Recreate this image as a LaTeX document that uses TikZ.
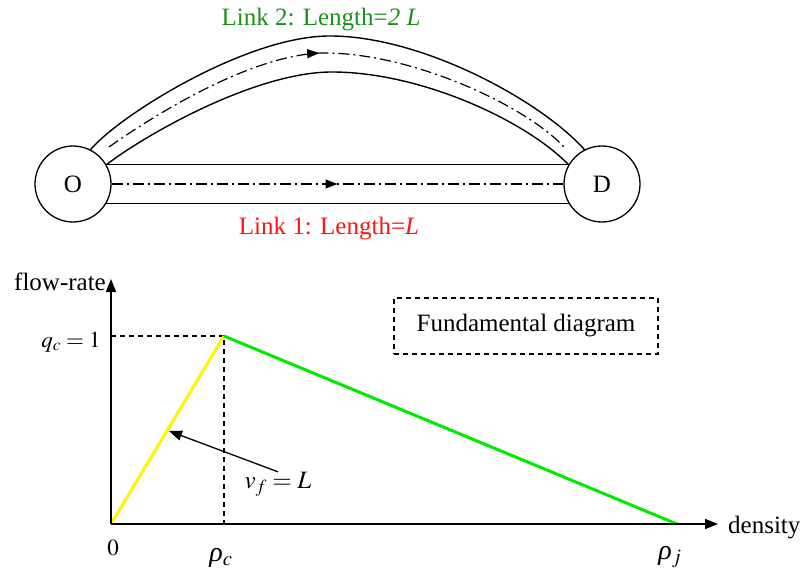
\documentclass[tikz,border=0pt]{standalone}
\usepackage{mathptmx}
\usepackage[no-math]{fontspec}
\setmainfont{Liberation Serif}
\usetikzlibrary{arrows.meta,decorations.markings}
\definecolor{linkgreen}{RGB}{25,145,25}
\definecolor{linkred}{RGB}{255,20,20}
\definecolor{fdgreen}{RGB}{0,235,0}
\definecolor{fdyellow}{RGB}{255,245,0}
\begin{document}
\begin{tikzpicture}[x=1pt,y=-1pt,
  txt/.style={font=\fontsize{25}{30}\selectfont, inner sep=0pt},
  town/.style={circle, draw, line width=1.3pt, minimum size=76pt, inner sep=0pt, font=\fontsize{25}{30}\selectfont},
  road/.style={line width=1.4pt},
  route/.style={line width=1.2pt, dash pattern=on 11pt off 4pt on 2pt off 4pt},
  midarrow/.style={postaction={decorate}, decoration={markings,
      mark=at position #1 with {\arrow{Triangle[length=12pt,width=9pt]}}}},
  axis/.style={line width=1.6pt, -{Triangle[length=13pt,width=10pt]}},
  guide/.style={line width=1.2pt, dash pattern=on 5pt off 4pt},
  mth/.style={inner sep=0pt, font=\fontsize{#1}{#1}\selectfont},
]
\useasboundingbox (0,0) rectangle (806,575);

% ---- network ----
\node[town] (O) at (73,184) {O};
\node[town] (D) at (602,184) {D};

% link 1
\draw[road] (O.30) -- (D.150);
\draw[road] (O.-30) -- (D.-150);
\draw[route, midarrow=0.5] (O.east) -- (D.west);

% link 2
\draw[road] (O.63) .. controls (120,115) and (245,37) .. (328,36)
                   .. controls (420,35) and (540,100) .. (D.117);
\draw[road] (O.30) .. controls (145,135) and (255,72) .. (332,72)
                   .. controls (420,72) and (525,120) .. (D.150);
\coordinate (r2s) at (109,147);
\coordinate (r2e) at (564,147);
\draw[route, midarrow=0.465] (r2s) .. controls (140,125) and (245,55) .. (322,53)
                   .. controls (410,52) and (525,105) .. (r2e);

\node[txt, text=linkgreen, anchor=base] (l2) at (321,26) {Link 2: Length=\textit{2 L}};
\node[txt, text=linkred, anchor=base] (l1) at (329,234) {Link 1: Length=\textit{L}};

% ---- fundamental diagram ----
\coordinate (orig) at (111,524);
\coordinate (ytop) at (111,279);
\coordinate (xend) at (718,524);
\coordinate (crit) at (224,336);
\coordinate (critx) at (224,524);
\coordinate (crity) at (111,336);
\coordinate (jam) at (677,524);

\draw[guide] (crity) -- (crit) -- (critx);
\draw[fdyellow, line width=3pt] (orig) -- (crit);
\draw[fdgreen, line width=3pt] (crit) -- (jam);
\draw[axis] (orig) -- (ytop);
\draw[axis] (orig) -- (xend);

\node[txt, anchor=base east] (fr) at (106,290) {flow-rate};
\node[txt, anchor=base west] (dens) at (728,533) {density};
\node[txt, draw, guide, minimum width=264pt, minimum height=56pt] (fd) at (526,326) {Fundamental diagram};

\node[mth=23] (qc) at (71,342) {$q_c = 1$};
\node[mth=23] (zero) at (113,548) {$0$};
\node[mth=28, anchor=base] (rhoc) at (221,561) {\textit{ρ}$_c$};
\node[mth=28, anchor=base] (rhoj) at (670,559) {\textit{ρ}$_j$};
\node[mth=25] (vf) at (278,484) {$v_f = L$};
\coordinate (vfpt) at (169,431);
\draw[line width=1.3pt, -{Triangle[length=13pt,width=10pt]}] (vf.north) -- (vfpt);
\end{tikzpicture}
\end{document}
